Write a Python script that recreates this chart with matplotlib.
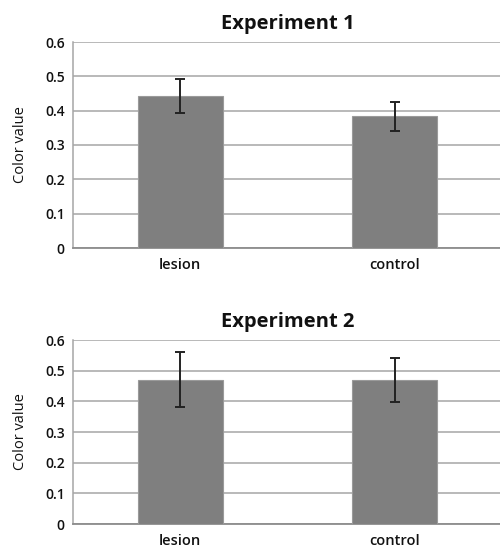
import matplotlib
matplotlib.use("Agg")
import matplotlib.pyplot as plt

plt.rcParams['font.family'] = ['Open Sans', 'DejaVu Sans']

categories = ["lesion", "control"]
exp1_values = [0.443, 0.384]
exp1_errors = [0.049, 0.042]
exp2_values = [0.470, 0.470]
exp2_errors = [0.090, 0.072]
titles = ["Experiment 1", "Experiment 2"]
yticks = [0, 0.1, 0.2, 0.3, 0.4, 0.5, 0.6]
ytick_labels = ["0", "0.1", "0.2", "0.3", "0.4", "0.5", "0.6"]

fig = plt.figure(figsize=(5.0, 5.49), dpi=100)
W, H = 500, 549
ax1 = fig.add_axes([73 / W, (H - 248) / H, 429 / W, 206 / H])
ax2 = fig.add_axes([73 / W, (H - 524) / H, 429 / W, 184 / H])

for ax, vals, errs, title in [(ax1, exp1_values, exp1_errors, titles[0]),
                              (ax2, exp2_values, exp2_errors, titles[1])]:
    x = list(range(len(categories)))
    ax.bar(x, vals, width=0.395, color="#7f7f7f", edgecolor="#9a9a9a",
           linewidth=0.8, zorder=3)
    ax.errorbar(x, vals, yerr=errs, fmt="none", ecolor="#222222",
                elinewidth=1.4, capsize=3.5, capthick=1.4, zorder=4)
    ax.set_xlim(-0.5, 1.5)
    ax.set_ylim(0, 0.6)
    ax.set_yticks(yticks)
    ax.set_yticklabels(ytick_labels, fontsize=10, fontweight="semibold")
    ax.set_xticks(x)
    ax.set_xticklabels(categories, fontsize=10.5, fontweight="semibold")
    ax.grid(axis="y", color="#a6a6a6", linewidth=1.1, zorder=0)
    ax.set_axisbelow(True)
    for s in ["top", "right"]:
        ax.spines[s].set_visible(False)
    ax.spines["left"].set_color("#a6a6a6")
    ax.spines["left"].set_linewidth(1.1)
    ax.spines["bottom"].set_color("#8c8c8c")
    ax.spines["bottom"].set_linewidth(1.3)
    ax.tick_params(axis="both", length=0, colors="#111111")
    ax.tick_params(axis="y", pad=6)
    ax.tick_params(axis="x", pad=7)
    ax.set_ylabel("Color value", fontsize=10.5, labelpad=12, color="#111111")
    ax.set_title(title, fontsize=14.5, fontweight="bold", pad=9, color="#111111")

fig.savefig("out.png", dpi=100)
